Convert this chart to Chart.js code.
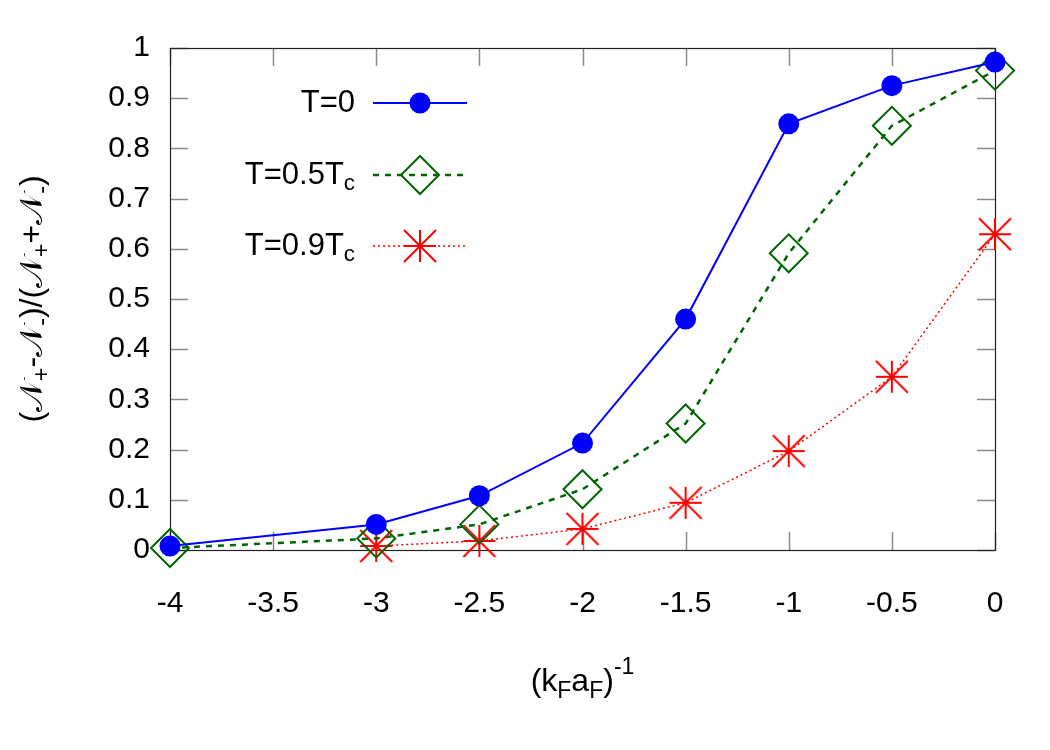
<!DOCTYPE html>
<html>
<head>
<meta charset="utf-8">
<script src="https://cdn.jsdelivr.net/npm/chart.js@4/dist/chart.umd.min.js"></script>
<style>
  body { margin: 0; background: #fff; }
  canvas { display: block; }
</style>
</head>
<body>
<canvas id="chart" width="1050" height="750"></canvas>
<script>
// Data
const xValues = [-4, -3, -2.5, -2, -1.5, -1, -0.5, 0];
const seriesT0 = [0.008, 0.051, 0.108, 0.213, 0.460, 0.849, 0.925, 0.972];
const seriesT05 = [0.004, 0.023, 0.051, 0.121, 0.252, 0.591, 0.845, 0.955];
const xValuesT09 = [-3, -2.5, -2, -1.5, -1, -0.5, 0];
const seriesT09 = [0.008, 0.018, 0.042, 0.094, 0.197, 0.345, 0.629];
const legendLabels = [['T=0', ''], ['T=0.5T', 'c'], ['T=0.9T', 'c']];

const FONT = '"Liberation Sans", Arial, sans-serif';

function toPoints(xs, ys) {
  return xs.map((x, i) => ({ x: x, y: ys[i] }));
}

// gnuplot-like star: plus plus a cross to the corners
function makeStar(r, color) {
  const c = document.createElement('canvas');
  c.width = c.height = 2 * r + 4;
  const g = c.getContext('2d');
  const m = r + 2;
  g.strokeStyle = color;
  g.lineWidth = 2;
  g.beginPath();
  g.moveTo(m - r, m); g.lineTo(m + r, m);
  g.moveTo(m, m - r); g.lineTo(m, m + r);
  g.moveTo(m - r, m - r); g.lineTo(m + r, m + r);
  g.moveTo(m - r, m + r); g.lineTo(m + r, m - r);
  g.stroke();
  return c;
}
const starImg = makeStar(16, '#ff0000');

// Text with a subscript / superscript piece
function drawParts(ctx, parts, x, y, size, align) {
  let total = 0;
  parts.forEach(p => {
    ctx.font = (p.s ? size * 0.72 : size) + 'px ' + FONT;
    p.w = ctx.measureText(p.t).width;
    total += p.w;
  });
  let cx = align === 'right' ? x - total : align === 'center' ? x - total / 2 : x;
  parts.forEach(p => {
    ctx.font = (p.s ? size * 0.72 : size) + 'px ' + FONT;
    let dy = 0;
    if (p.s === 'sub') dy = size * 0.3;
    if (p.s === 'sup') dy = -size * 0.45;
    ctx.fillText(p.t, cx, y + dy);
    cx += p.w;
  });
}

const framePlugin = {
  id: 'frame',
  beforeDatasetsDraw(chart) {
    const ctx = chart.ctx;
    const a = chart.chartArea;
    const xs = chart.scales.x, ys = chart.scales.y;
    ctx.save();
    ctx.strokeStyle = '#8a8a8a';
    ctx.lineWidth = 1.5;
    ctx.beginPath();
    ys.ticks.forEach(t => {
      const p = Math.round(ys.getPixelForValue(t.value)) + 0.5;
      ctx.moveTo(a.left, p); ctx.lineTo(a.left + 18, p);
      ctx.moveTo(a.right, p); ctx.lineTo(a.right - 18, p);
    });
    xs.ticks.forEach(t => {
      const p = Math.round(xs.getPixelForValue(t.value)) + 0.5;
      ctx.moveTo(p, a.bottom); ctx.lineTo(p, a.bottom - 18);
      ctx.moveTo(p, a.top); ctx.lineTo(p, a.top + 18);
    });
    ctx.stroke();
    ctx.strokeStyle = '#222';
    ctx.lineWidth = 1.2;
    ctx.strokeRect(a.left + 0.5, a.top + 0.5, a.right - a.left, a.bottom - a.top);
    ctx.restore();
  },
  afterDraw(chart) {
    const ctx = chart.ctx;
    const a = chart.chartArea;
    ctx.save();
    ctx.fillStyle = '#000';
    ctx.textBaseline = 'middle';

    // x title
    drawParts(ctx, [{ t: '(k' }, { t: 'F', s: 'sub' }, { t: 'a' }, { t: 'F', s: 'sub' }, { t: ')' }, { t: '-1', s: 'sup' }],
      (a.left + a.right) / 2, 682, 32, 'center');

    // y title
    ctx.save();
    ctx.translate(33, (a.top + a.bottom) / 2);
    ctx.rotate(-Math.PI / 2);
    const N = '\u{1D4A9}';
    drawParts(ctx, [{ t: '(' + N }, { t: '+', s: 'sub' }, { t: '-' + N }, { t: '-', s: 'sub' }, { t: ')/(' + N },
      { t: '+', s: 'sub' }, { t: '+' + N }, { t: '-', s: 'sub' }, { t: ')' }], 0, 0, 32, 'center');
    ctx.restore();

    // legend
    const rows = [103, 175, 246];
    chart.data.datasets.forEach((ds, i) => {
      const y = rows[i];
      ctx.fillStyle = '#000';
      drawParts(ctx, [{ t: legendLabels[i][0] }, { t: legendLabels[i][1], s: 'sub' }], 355, y, 31, 'right');
      ctx.strokeStyle = ds.borderColor;
      ctx.lineWidth = ds.borderWidth;
      ctx.setLineDash(ds.borderDash || []);
      ctx.beginPath();
      ctx.moveTo(373, y); ctx.lineTo(467, y);
      ctx.stroke();
      ctx.setLineDash([]);
      ctx.fillStyle = ds.pointBackgroundColor;
      ctx.strokeStyle = ds.pointBorderColor;
      ctx.lineWidth = ds.pointBorderWidth;
      Chart.helpers.drawPoint(ctx, {
        pointStyle: ds.pointStyle,
        rotation: 0,
        radius: ds.pointRadius,
        borderWidth: ds.pointBorderWidth
      }, 420, y);
    });
    ctx.restore();
  }
};

new Chart(document.getElementById('chart'), {
  type: 'scatter',
  data: {
    datasets: [
      {
        label: 'T=0',
        data: toPoints(xValues, seriesT0),
        showLine: true,
        borderColor: '#0000ff',
        borderWidth: 2,
        pointStyle: 'circle',
        pointRadius: 10.5,
        pointBackgroundColor: '#0000ff',
        pointBorderColor: '#0000ff',
        pointBorderWidth: 0,
        clip: false,
        order: 1
      },
      {
        label: 'T=0.5Tc',
        data: toPoints(xValues, seriesT05),
        showLine: true,
        borderColor: '#006400',
        borderWidth: 2.5,
        borderDash: [6, 6],
        pointStyle: 'rectRot',
        pointRadius: 19,
        pointBackgroundColor: 'rgba(0,0,0,0)',
        pointBorderColor: '#006400',
        pointBorderWidth: 2,
        clip: false,
        order: 2
      },
      {
        label: 'T=0.9Tc',
        data: toPoints(xValuesT09, seriesT09),
        showLine: true,
        borderColor: '#ff0000',
        borderWidth: 1.5,
        borderDash: [2, 3],
        pointStyle: starImg,
        pointRadius: 16,
        pointBackgroundColor: '#ff0000',
        pointBorderColor: '#ff0000',
        pointBorderWidth: 2,
        clip: false,
        order: 3
      }
    ]
  },
  options: {
    responsive: false,
    animation: false,
    layout: { padding: { left: 0, right: 55, top: 48, bottom: 0 } },
    plugins: {
      legend: { display: false },
      tooltip: { enabled: false }
    },
    scales: {
      x: {
        type: 'linear',
        min: -4,
        max: 0,
        afterFit(scale) { scale.height = 200; },
        afterBuildTicks(scale) {
          scale.ticks = [-4, -3.5, -3, -2.5, -2, -1.5, -1, -0.5, 0].map(v => ({ value: v }));
        },
        ticks: {
          color: '#000',
          font: { family: FONT, size: 30 },
          padding: 36,
          maxRotation: 0,
          callback: v => String(v)
        },
        grid: { display: false, drawTicks: false },
        border: { display: false }
      },
      y: {
        min: 0,
        max: 1,
        afterFit(scale) { scale.width = 170; },
        afterBuildTicks(scale) {
          scale.ticks = [0, 0.1, 0.2, 0.3, 0.4, 0.5, 0.6, 0.7, 0.8, 0.9, 1].map(v => ({ value: v }));
        },
        ticks: {
          color: '#000',
          font: { family: FONT, size: 30 },
          padding: 20,
          callback: v => String(Number(v.toFixed(1)))
        },
        grid: { display: false, drawTicks: false },
        border: { display: false }
      }
    }
  },
  plugins: [framePlugin]
});
</script>
</body>
</html>
